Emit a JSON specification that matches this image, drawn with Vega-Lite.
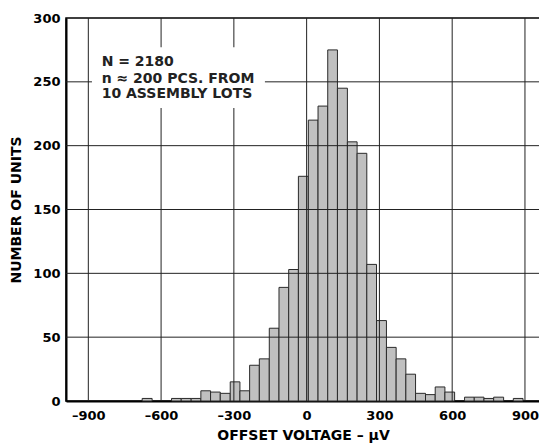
{
  "$schema": "https://vega.github.io/schema/vega-lite/v6.json",
  "autosize": "none",
  "width": 474,
  "height": 383,
  "padding": {"left": 66, "top": 18, "right": 0, "bottom": 45},
  "background": "white",
  "config": {
    "view": {"stroke": "black", "strokeWidth": 1.5},
    "font": "DejaVu Sans",
    "axis": {"labelFont": "DejaVu Sans", "titleFont": "DejaVu Sans", "labelFontWeight": "bold", "titleFontWeight": "bold", "labelColor": "black", "titleColor": "black", "grid": false, "ticks": false, "tickSize": 0, "domainWidth": 2, "domainColor": "black", "labelFontSize": 13, "titleFontSize": 14, "labelPadding": 6},
    "axisX": {"labelPadding": 8}
  },
  "datasets": {
    "bins": [
      {"lo": -678, "hi": -637, "n": 2},
      {"lo": -557, "hi": -517, "n": 2},
      {"lo": -517, "hi": -476, "n": 2},
      {"lo": -476, "hi": -436, "n": 2},
      {"lo": -436, "hi": -396, "n": 8},
      {"lo": -396, "hi": -356, "n": 7},
      {"lo": -356, "hi": -315, "n": 6},
      {"lo": -315, "hi": -275, "n": 15},
      {"lo": -275, "hi": -235, "n": 8},
      {"lo": -235, "hi": -195, "n": 28},
      {"lo": -195, "hi": -154, "n": 33},
      {"lo": -154, "hi": -114, "n": 57},
      {"lo": -114, "hi": -74, "n": 89},
      {"lo": -74, "hi": -34, "n": 103},
      {"lo": -34, "hi": 7, "n": 176},
      {"lo": 7, "hi": 47, "n": 220},
      {"lo": 47, "hi": 87, "n": 231},
      {"lo": 87, "hi": 127, "n": 275},
      {"lo": 127, "hi": 168, "n": 245},
      {"lo": 168, "hi": 208, "n": 203},
      {"lo": 208, "hi": 248, "n": 194},
      {"lo": 248, "hi": 288, "n": 107},
      {"lo": 288, "hi": 329, "n": 63},
      {"lo": 329, "hi": 369, "n": 42},
      {"lo": 369, "hi": 409, "n": 33},
      {"lo": 409, "hi": 449, "n": 21},
      {"lo": 449, "hi": 490, "n": 6},
      {"lo": 490, "hi": 530, "n": 5},
      {"lo": 530, "hi": 570, "n": 11},
      {"lo": 570, "hi": 610, "n": 7},
      {"lo": 651, "hi": 691, "n": 3},
      {"lo": 691, "hi": 731, "n": 3},
      {"lo": 731, "hi": 771, "n": 2},
      {"lo": 771, "hi": 812, "n": 3},
      {"lo": 852, "hi": 892, "n": 2}
    ],
    "xgrid": [{"g": -900}, {"g": -600}, {"g": -300}, {"g": 0}, {"g": 300}, {"g": 600}, {"g": 900}],
    "ygrid": [{"g": 50}, {"g": 100}, {"g": 150}, {"g": 200}, {"g": 250}],
    "box": [{"x1": -885, "x2": -172, "y1": 229.5, "y2": 277}],
    "notes": [
      {"x": -845, "y": 262.6, "t": "N = 2180"},
      {"x": -845, "y": 248.8, "t": "n ≈ 200 PCS. FROM"},
      {"x": -845, "y": 237, "t": "10 ASSEMBLY LOTS"}
    ]
  },
  "layer": [
    {
      "data": {"name": "bins"},
      "mark": {"type": "rect", "fill": "#c0c0c0", "stroke": "#2a2a2a", "strokeWidth": 1},
      "encoding": {
        "x": {"field": "lo", "type": "quantitative", "scale": {"domain": [-992, 962], "nice": false, "zero": false},
          "axis": {"values": [-900, -600, -300, 0, 300, 600, 900], "labelExpr": "datum.value < 0 ? '–' + abs(datum.value) : '' + datum.value", "title": "OFFSET VOLTAGE – μV", "titlePadding": 6}},
        "x2": {"field": "hi"},
        "y": {"field": "n", "type": "quantitative", "scale": {"domain": [0, 300], "nice": false},
          "axis": {"values": [0, 50, 100, 150, 200, 250, 300], "title": "NUMBER OF UNITS", "titlePadding": 9}},
        "y2": {"datum": 0}
      }
    },
    {
      "data": {"name": "xgrid"},
      "mark": {"type": "rule", "color": "#222222", "strokeWidth": 1},
      "encoding": {
        "x": {"field": "g", "type": "quantitative", "scale": {"domain": [-992, 962], "nice": false, "zero": false},
          "axis": {"values": [-900, -600, -300, 0, 300, 600, 900], "labelExpr": "datum.value < 0 ? '–' + abs(datum.value) : '' + datum.value", "title": "OFFSET VOLTAGE – μV", "titlePadding": 6}}
      }
    },
    {
      "data": {"name": "ygrid"},
      "mark": {"type": "rule", "color": "#222222", "strokeWidth": 1},
      "encoding": {
        "y": {"field": "g", "type": "quantitative", "scale": {"domain": [0, 300], "nice": false},
          "axis": {"values": [0, 50, 100, 150, 200, 250, 300], "title": "NUMBER OF UNITS", "titlePadding": 9}}
      }
    },
    {
      "data": {"name": "box"},
      "mark": {"type": "rect", "fill": "white"},
      "encoding": {
        "x": {"field": "x1", "type": "quantitative", "scale": {"domain": [-992, 962], "nice": false, "zero": false},
          "axis": {"values": [-900, -600, -300, 0, 300, 600, 900], "labelExpr": "datum.value < 0 ? '–' + abs(datum.value) : '' + datum.value", "title": "OFFSET VOLTAGE – μV", "titlePadding": 6}},
        "x2": {"field": "x2"},
        "y": {"field": "y1", "type": "quantitative", "scale": {"domain": [0, 300], "nice": false},
          "axis": {"values": [0, 50, 100, 150, 200, 250, 300], "title": "NUMBER OF UNITS", "titlePadding": 9}},
        "y2": {"field": "y2"}
      }
    },
    {
      "data": {"name": "notes"},
      "mark": {"type": "text", "align": "left", "baseline": "alphabetic", "font": "DejaVu Sans", "fontWeight": "bold", "fontSize": 14, "color": "#222222"},
      "encoding": {
        "x": {"field": "x", "type": "quantitative", "scale": {"domain": [-992, 962], "nice": false, "zero": false},
          "axis": {"values": [-900, -600, -300, 0, 300, 600, 900], "labelExpr": "datum.value < 0 ? '–' + abs(datum.value) : '' + datum.value", "title": "OFFSET VOLTAGE – μV", "titlePadding": 6}},
        "y": {"field": "y", "type": "quantitative", "scale": {"domain": [0, 300], "nice": false},
          "axis": {"values": [0, 50, 100, 150, 200, 250, 300], "title": "NUMBER OF UNITS", "titlePadding": 9}},
        "text": {"field": "t"}
      }
    }
  ]
}
